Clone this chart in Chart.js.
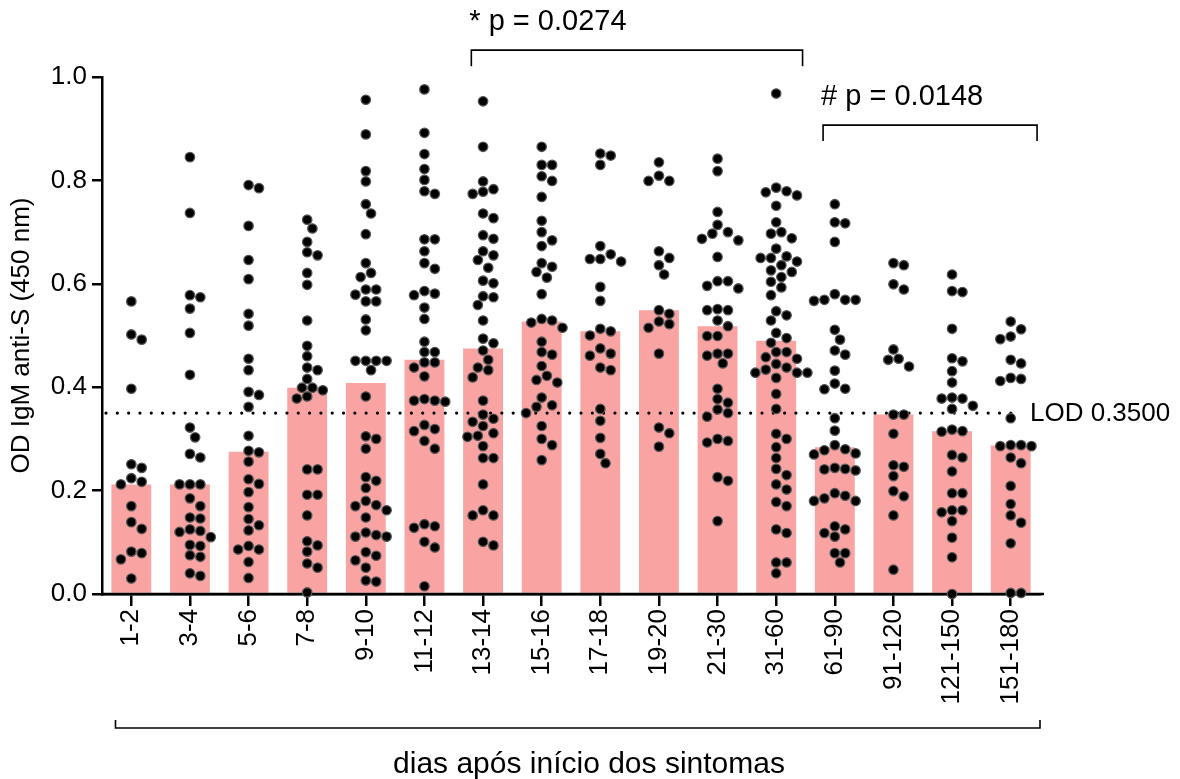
<!DOCTYPE html>
<html>
<head>
<meta charset="utf-8">
<script src="https://cdn.jsdelivr.net/npm/chart.js@4/dist/chart.umd.min.js"></script>
<style>
html,body{margin:0;padding:0;background:#fff;}
#wrap{width:1180px;height:779px;position:relative;}
</style>
</head>
<body>
<div id="wrap"><canvas id="c" width="1180" height="779"></canvas></div>
<script>
// ---------- DATA ----------
const categories = ['1-2','3-4','5-6','7-8','9-10','11-12','13-14','15-16','17-18','19-20','21-30','31-60','61-90','91-120','121-150','151-180'];
const medianOD = [0.212, 0.212, 0.275, 0.399, 0.408, 0.453, 0.475, 0.527, 0.508, 0.549, 0.518, 0.490, 0.284, 0.347, 0.315, 0.287];

const od_1_2 = [0.566, 0.502, 0.492, 0.397, 0.251, 0.244, 0.224, 0.217, 0.212, 0.170, 0.139, 0.126, 0.082, 0.079, 0.067, 0.030];
const od_3_4 = [0.845, 0.737, 0.578, 0.574, 0.552, 0.505, 0.424, 0.322, 0.303, 0.271, 0.264, 0.212, 0.212, 0.212, 0.185, 0.170, 0.148, 0.146, 0.125, 0.122, 0.120, 0.110, 0.095, 0.093, 0.075, 0.072, 0.040, 0.035];
const od_5_6 = [0.791, 0.785, 0.712, 0.646, 0.609, 0.542, 0.519, 0.455, 0.433, 0.391, 0.385, 0.362, 0.306, 0.277, 0.274, 0.256, 0.222, 0.213, 0.197, 0.168, 0.145, 0.133, 0.123, 0.093, 0.086, 0.086, 0.062, 0.031];
const od_7_8 = [0.724, 0.707, 0.681, 0.661, 0.655, 0.621, 0.598, 0.529, 0.480, 0.460, 0.438, 0.433, 0.416, 0.399, 0.399, 0.394, 0.382, 0.378, 0.241, 0.241, 0.192, 0.192, 0.152, 0.102, 0.094, 0.082, 0.059, 0.051, 0.003];
const od_9_10 = [0.956, 0.889, 0.818, 0.798, 0.754, 0.736, 0.696, 0.640, 0.621, 0.613, 0.589, 0.589, 0.579, 0.566, 0.566, 0.531, 0.510, 0.451, 0.451, 0.451, 0.451, 0.433, 0.382, 0.305, 0.300, 0.281, 0.226, 0.219, 0.205, 0.180, 0.172, 0.170, 0.162, 0.148, 0.119, 0.114, 0.111, 0.111, 0.081, 0.074, 0.065, 0.051, 0.026, 0.024];
const od_11_12 = [0.976, 0.892, 0.851, 0.822, 0.801, 0.779, 0.774, 0.686, 0.686, 0.663, 0.640, 0.629, 0.586, 0.581, 0.578, 0.554, 0.532, 0.488, 0.468, 0.468, 0.448, 0.448, 0.438, 0.421, 0.377, 0.374, 0.374, 0.372, 0.327, 0.319, 0.315, 0.296, 0.281, 0.135, 0.131, 0.128, 0.101, 0.090, 0.015];
const od_13_14 = [0.953, 0.865, 0.798, 0.783, 0.778, 0.774, 0.736, 0.727, 0.694, 0.687, 0.663, 0.655, 0.646, 0.631, 0.606, 0.601, 0.576, 0.574, 0.559, 0.529, 0.494, 0.485, 0.471, 0.453, 0.438, 0.433, 0.419, 0.374, 0.347, 0.339, 0.333, 0.325, 0.311, 0.306, 0.304, 0.286, 0.263, 0.263, 0.212, 0.162, 0.152, 0.152, 0.101, 0.094];
const od_15_16 = [0.865, 0.830, 0.830, 0.808, 0.799, 0.768, 0.722, 0.700, 0.684, 0.673, 0.640, 0.633, 0.623, 0.612, 0.580, 0.532, 0.529, 0.525, 0.515, 0.488, 0.468, 0.463, 0.441, 0.422, 0.414, 0.409, 0.380, 0.365, 0.362, 0.350, 0.325, 0.300, 0.288, 0.259];
const od_17_18 = [0.852, 0.848, 0.830, 0.673, 0.657, 0.648, 0.648, 0.643, 0.594, 0.567, 0.513, 0.508, 0.500, 0.475, 0.465, 0.461, 0.438, 0.433, 0.358, 0.335, 0.302, 0.271, 0.253];
const od_19_20 = [0.835, 0.809, 0.799, 0.799, 0.663, 0.650, 0.636, 0.618, 0.549, 0.542, 0.527, 0.522, 0.515, 0.465, 0.322, 0.311, 0.285];
const od_21_30 = [0.842, 0.818, 0.739, 0.714, 0.700, 0.697, 0.687, 0.684, 0.652, 0.605, 0.605, 0.596, 0.591, 0.551, 0.549, 0.549, 0.529, 0.518, 0.499, 0.499, 0.465, 0.465, 0.461, 0.446, 0.397, 0.377, 0.370, 0.357, 0.350, 0.343, 0.300, 0.296, 0.293, 0.226, 0.219, 0.141];
const od_31_60 = [0.968, 0.786, 0.779, 0.777, 0.771, 0.751, 0.719, 0.700, 0.697, 0.688, 0.668, 0.653, 0.650, 0.650, 0.643, 0.636, 0.626, 0.623, 0.613, 0.604, 0.593, 0.578, 0.547, 0.539, 0.529, 0.505, 0.495, 0.486, 0.468, 0.468, 0.458, 0.455, 0.445, 0.438, 0.434, 0.428, 0.428, 0.428, 0.418, 0.387, 0.358, 0.310, 0.300, 0.284, 0.263, 0.242, 0.230, 0.212, 0.202, 0.178, 0.170, 0.125, 0.118, 0.061, 0.061, 0.040];
const od_61_90 = [0.754, 0.719, 0.717, 0.681, 0.580, 0.569, 0.569, 0.569, 0.567, 0.511, 0.492, 0.471, 0.463, 0.432, 0.407, 0.397, 0.396, 0.340, 0.316, 0.288, 0.280, 0.278, 0.272, 0.270, 0.244, 0.242, 0.241, 0.239, 0.195, 0.190, 0.185, 0.180, 0.180, 0.131, 0.125, 0.118, 0.111, 0.079, 0.079, 0.061];
const od_91_120 = [0.640, 0.636, 0.599, 0.589, 0.473, 0.455, 0.453, 0.440, 0.347, 0.347, 0.310, 0.249, 0.246, 0.228, 0.199, 0.189, 0.152, 0.047];
const od_121_150 = [0.618, 0.586, 0.584, 0.513, 0.456, 0.450, 0.431, 0.409, 0.380, 0.378, 0.378, 0.364, 0.358, 0.318, 0.315, 0.314, 0.269, 0.264, 0.237, 0.195, 0.195, 0.162, 0.162, 0.158, 0.141, 0.109, 0.071, 0.000];
const od_151_180 = [0.527, 0.512, 0.498, 0.493, 0.453, 0.446, 0.418, 0.416, 0.412, 0.340, 0.288, 0.288, 0.286, 0.286, 0.264, 0.253, 0.209, 0.174, 0.152, 0.138, 0.098, 0.002, 0.002];

const pointSeries = [od_1_2, od_3_4, od_5_6, od_7_8, od_9_10, od_11_12, od_13_14, od_15_16, od_17_18, od_19_20, od_21_30, od_31_60, od_61_90, od_91_120, od_121_150, od_151_180];

const yTickValues = [0, 0.2, 0.4, 0.6, 0.8, 1.0];
const lodValue = 0.35;
const lodLabel = 'LOD 0.3500';
const yTitle = 'OD IgM anti-S (450 nm)';
const xTitle = 'dias após início dos sintomas';
const comparisons = [
  {from: 6, to: 11, text: '* p = 0.0274'},
  {from: 12, to: 15, text: '# p = 0.0148'}
];

// ---------- LAYOUT / STYLE ----------
const FONT = '"Liberation Sans", Arial, Helvetica, sans-serif';
const AREA = {left: 102, right: 1040, top: 77, bottom: 594};
const PLOT_W = AREA.right - AREA.left, PLOT_H = AREA.bottom - AREA.top;
const PX_PER_CAT = PLOT_W / categories.length;
const DOT_D = 10.4;

// beeswarm layout: spreads points horizontally so they don't overlap
function swarm(values, idx) {
  const sorted = values.slice().sort((a, b) => b - a);
  const placed = [];
  return sorted.map(v => {
    const py = v * PLOT_H;
    let off = 0;
    for (let k = 0; k < 80; k++) {
      const cand = k === 0 ? 0 : (k % 2 ? 1 : -1) * Math.ceil(k / 2) * DOT_D * 0.5;
      if (placed.every(p => Math.hypot(p.x - cand, p.y - py) >= DOT_D * 0.97)) { off = cand; break; }
    }
    placed.push({x: off, y: py});
    return {x: idx + off / PX_PER_CAT, y: v};
  });
}

const scatterSets = pointSeries.map((vals, i) => ({
  type: 'scatter',
  data: swarm(vals, i),
  xAxisID: 'x2',
  yAxisID: 'y',
  pointRadius: 4.7,
  pointBorderWidth: 1.3,
  backgroundColor: '#000',
  borderColor: '#555',
  pointHoverRadius: 4.7,
  clip: false,
  order: 1
}));

const annot = {
  id: 'annot',
  afterDatasetDraw(chart, args) {
    if (args.index !== 0) return;
    const {ctx, chartArea: ca, scales} = chart;
    const y = scales.y;
    ctx.save();
    const y0 = y.getPixelForValue(0);
    ctx.strokeStyle = '#000';
    ctx.lineWidth = 2.5;
    ctx.beginPath(); ctx.moveTo(ca.left - 1, y0); ctx.lineTo(ca.right + 4, y0); ctx.stroke();
    const ly = y.getPixelForValue(lodValue);
    ctx.setLineDash([0.01, 11.3]);
    ctx.lineCap = 'round';
    ctx.lineWidth = 3.2;
    ctx.beginPath(); ctx.moveTo(ca.left + 4, ly); ctx.lineTo(ca.right - 18, ly); ctx.stroke();
    ctx.restore();
  },
  afterDraw(chart) {
    const {ctx, chartArea: ca, scales} = chart;
    const y = scales.y, x2 = scales.x2;
    ctx.save();
    ctx.fillStyle = '#000';
    ctx.strokeStyle = '#000';
    ctx.textBaseline = 'middle';
    ctx.font = '26px ' + FONT;
    ctx.textAlign = 'left';
    ctx.fillText(lodLabel, ca.right - 10, y.getPixelForValue(lodValue) + 1);
    const levels = [{line: 1.052, leg: 1.021, text: 1.106}, {line: 0.907, leg: 0.876, text: 0.961}];
    ctx.lineWidth = 1.6;
    ctx.font = '29px ' + FONT;
    comparisons.forEach((c, k) => {
      const lv = levels[k];
      const xa = x2.getPixelForValue(c.from - 0.2);
      const xb = x2.getPixelForValue(c.to + 0.45);
      const yl = y.getPixelForValue(lv.line), yg = y.getPixelForValue(lv.leg);
      ctx.beginPath();
      ctx.moveTo(xa, yg); ctx.lineTo(xa, yl); ctx.lineTo(xb, yl); ctx.lineTo(xb, yg);
      ctx.stroke();
      ctx.fillText(c.text, xa - 2, y.getPixelForValue(lv.text));
    });
    const bl = x2.getPixelForValue(-0.27), br = x2.getPixelForValue(15.5);
    ctx.beginPath();
    ctx.moveTo(bl, 720); ctx.lineTo(bl, 728); ctx.lineTo(br, 728); ctx.lineTo(br, 720);
    ctx.stroke();
    ctx.textAlign = 'center';
    ctx.font = '30px ' + FONT;
    ctx.fillText(xTitle, 589, 765);
    ctx.restore();
  }
};

new Chart(document.getElementById('c'), {
  type: 'bar',
  data: {
    labels: categories,
    datasets: [
      {
        type: 'bar',
        data: medianOD,
        xAxisID: 'x',
        yAxisID: 'y',
        backgroundColor: '#F9A3A3',
        borderWidth: 0,
        barPercentage: 0.68,
        categoryPercentage: 1.0,
        grouped: false,
        order: 2
      },
      ...scatterSets
    ]
  },
  options: {
    responsive: false,
    devicePixelRatio: 1,
    animation: false,
    events: [],
    layout: {padding: {top: AREA.top, right: 1180 - AREA.right, bottom: 0, left: 0}},
    plugins: {legend: {display: false}, tooltip: {enabled: false}},
    scales: {
      x: {
        type: 'category',
        offset: true,
        afterFit(s) { s.height = 779 - AREA.bottom; },
        grid: {drawOnChartArea: false, drawTicks: true, offset: false, tickLength: 12, color: '#000', lineWidth: 2.5},
        border: {display: true, color: '#000', width: 2.5},
        ticks: {autoSkip: false, maxRotation: 90, minRotation: 90, padding: 3, color: '#000', font: {family: FONT, size: 26}}
      },
      x2: {
        type: 'linear',
        display: false,
        offset: false,
        min: -0.5,
        max: categories.length - 0.5,
        grid: {offset: false}
      },
      y: {
        type: 'linear',
        min: 0,
        max: 1,
        afterFit(s) { s.width = AREA.left; },
        afterBuildTicks(s) { s.ticks = yTickValues.map(v => ({value: v})); },
        grid: {drawOnChartArea: false, drawTicks: true, tickLength: 10, color: '#000', lineWidth: 2.5},
        border: {display: true, color: '#000', width: 2.5},
        ticks: {padding: 5, color: '#000', font: {family: FONT, size: 26}, callback: v => Number(v).toFixed(1)},
        title: {display: true, text: yTitle, color: '#000', font: {family: FONT, size: 26}, padding: {top: 6, bottom: 0}}
      }
    }
  },
  plugins: [annot]
});
</script>
</body>
</html>
